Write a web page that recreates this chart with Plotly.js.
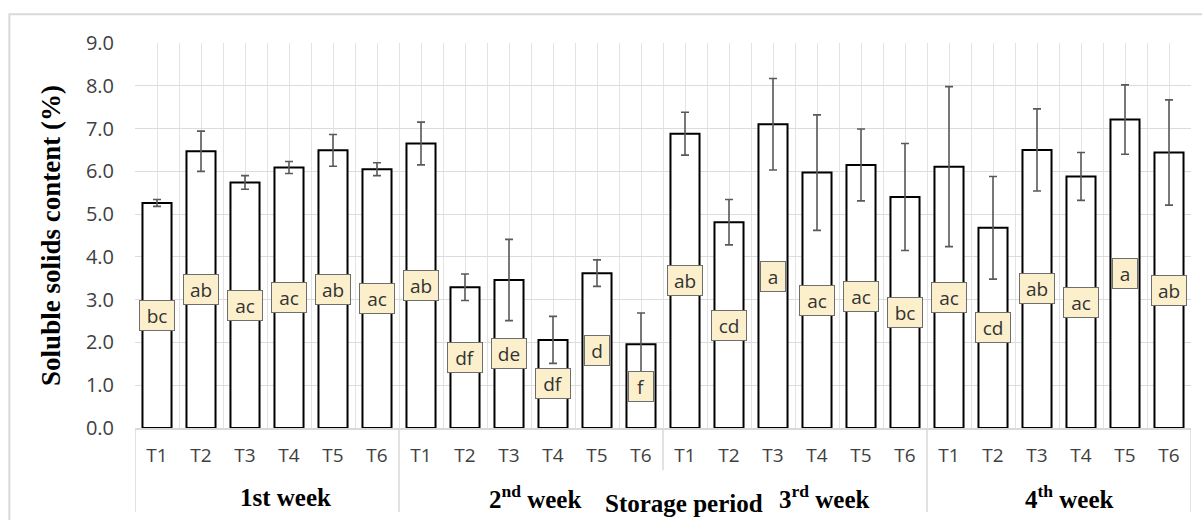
<!DOCTYPE html>
<html>
<head>
<meta charset="utf-8">
<script src="https://cdn.plot.ly/plotly-3.0.1.min.js"></script>
<style>html,body{margin:0;padding:0;background:#fff;}#chart{width:1202px;height:520px;}</style>
</head>
<body>
<div id="chart"></div>
<script>
const weeks = ["1st week", "2<sup>nd</sup> week", "3<sup>rd</sup> week", "4<sup>th</sup> week"];
const treatments = ["T1", "T2", "T3", "T4", "T5", "T6"];

const week1Mean = [5.26, 6.47, 5.74, 6.09, 6.49, 6.05];
const week1Err  = [0.08, 0.47, 0.16, 0.14, 0.37, 0.15];
const week1Sig  = ["bc", "ab", "ac", "ac", "ab", "ac"];

const week2Mean = [6.65, 3.29, 3.46, 2.06, 3.62, 1.96];
const week2Err  = [0.50, 0.31, 0.95, 0.55, 0.31, 0.73];
const week2Sig  = ["ab", "df", "de", "df", "d", "f"];

const week3Mean = [6.88, 4.81, 7.10, 5.97, 6.15, 5.40];
const week3Err  = [0.50, 0.53, 1.07, 1.35, 0.84, 1.25];
const week3Sig  = ["ab", "cd", "a", "ac", "ac", "bc"];

const week4Mean = [6.11, 4.68, 6.50, 5.88, 7.21, 6.44];
const week4Err  = [1.87, 1.20, 0.96, 0.56, 0.81, 1.23];
const week4Sig  = ["ac", "cd", "ab", "ac", "a", "ab"];

const yTitle = "Soluble solids content (%)";
const xTitle = "Storage period";

const means = [].concat(week1Mean, week2Mean, week3Mean, week4Mean);
const errs = [].concat(week1Err, week2Err, week3Err, week4Err);
const sigs = [].concat(week1Sig, week2Sig, week3Sig, week4Sig);
const xs = means.map((_, i) => i);
const tickText = weeks.flatMap(() => treatments);

const trace = {
  type: "bar",
  x: xs,
  y: means,
  width: 0.66,
  marker: {color: "#ffffff", line: {color: "#000000", width: 2}},
  error_y: {type: "data", array: errs, visible: true, color: "#595959", thickness: 1.6, width: 4},
  hoverinfo: "y"
};

const serif = "Liberation Serif, Times New Roman, serif";
const sans = "Open Sans, sans-serif";

const annotations = [];
sigs.forEach((s, i) => {
  annotations.push({
    x: xs[i], y: means[i] / 2, xref: "x", yref: "y",
    text: s, showarrow: false,
    font: {family: sans, size: 19, color: "#333333"},
    width: 12 + 10 * s.length, height: 27,
    bgcolor: "#fcf0cc", bordercolor: "#6e6e6e", borderwidth: 1, borderpad: 1,
    xanchor: "center", yanchor: "middle"
  });
});
const n = treatments.length;
const weekShift = [18, 4, 29, 10];
weeks.forEach((w, k) => {
  annotations.push({
    x: k * n + (n - 1) / 2, y: -0.18, xref: "x", yref: "paper",
    text: w, showarrow: false, xshift: weekShift[k],
    font: {family: serif, size: 25, color: "#000000", weight: "bold"},
    xanchor: "center", yanchor: "middle"
  });
});
annotations.push({
  x: 0.52, y: -0.197, xref: "paper", yref: "paper",
  text: xTitle, showarrow: false,
  font: {family: serif, size: 25, color: "#000000", weight: "bold"},
  xanchor: "center", yanchor: "middle"
});

const shapes = [];
for (let k = 0; k <= weeks.length; k++) {
  const bx = k * n - 0.5;
  shapes.push({
    type: "line", xref: "x", yref: "paper",
    x0: bx, x1: bx, y0: 0, y1: (k === 2 ? -0.11 : -0.218),
    line: {color: "#d9d9d9", width: 1.5}
  });
}
shapes.push({
  type: "rect", xref: "paper", yref: "paper",
  x0: -0.119, x1: 1.05, y0: 1.075, y1: -0.3,
  line: {color: "#d9d9d9", width: 2}, layer: "below"
});

const layout = {
  width: 1202, height: 520,
  margin: {l: 135, r: 11, t: 43, b: 92},
  paper_bgcolor: "#ffffff", plot_bgcolor: "#ffffff",
  showlegend: false,
  xaxis: {
    range: [-0.5, xs.length - 0.5],
    tickmode: "array", tickvals: xs, ticktext: tickText,
    tickfont: {family: sans, size: 19, color: "#404040"},
    showgrid: true, gridcolor: "#e3e3e3", gridwidth: 1,
    minor: {tick0: 0.5, dtick: 1, showgrid: true, gridcolor: "#e3e3e3", gridwidth: 1},
    showline: true, linecolor: "#d9d9d9", linewidth: 1.5,
    zeroline: false, ticks: "", ticklabelstandoff: 10,
    fixedrange: true
  },
  yaxis: {
    range: [0, 9], dtick: 1, tick0: 0, tickformat: ".1f",
    tickfont: {family: sans, size: 20, color: "#404040"},
    showgrid: true, gridcolor: "#dcdcdc", gridwidth: 1,
    zeroline: false, showline: false, ticks: "", ticklabelstandoff: 20,
    title: {text: yTitle, font: {family: serif, size: 27, color: "#000000", weight: "bold"}, standoff: 17},
    fixedrange: true
  },
  annotations: annotations,
  shapes: shapes
};

Plotly.newPlot("chart", [trace], layout, {displayModeBar: false, staticPlot: true});
</script>
</body>
</html>
